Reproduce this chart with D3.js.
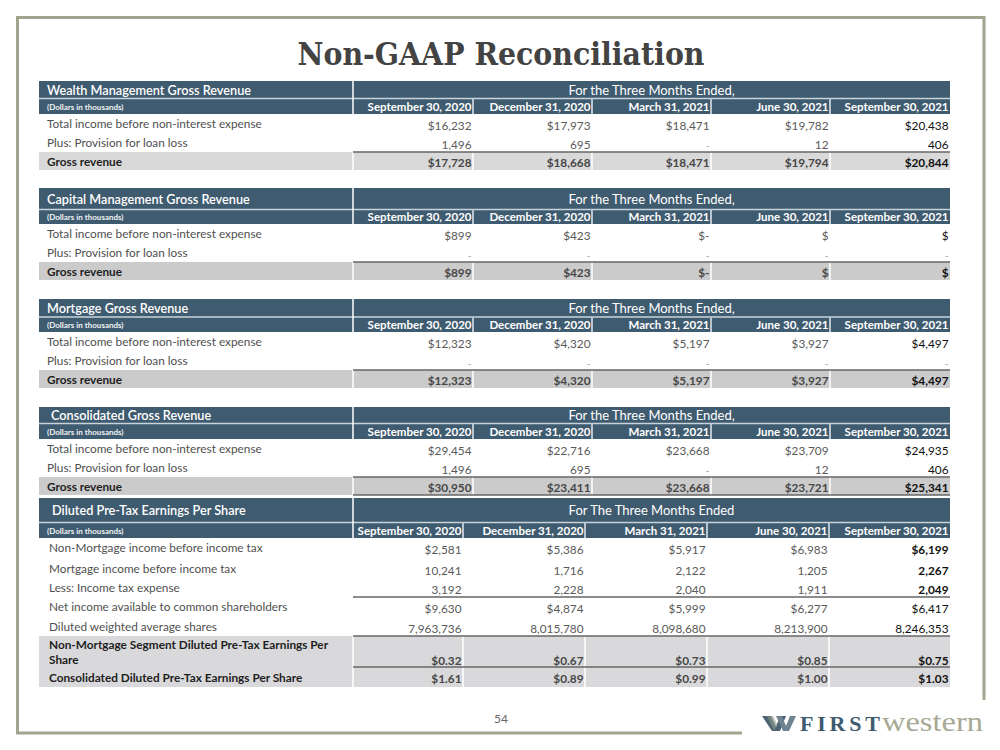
<!DOCTYPE html>
<html><head><meta charset="utf-8">
<script src="https://cdn.jsdelivr.net/npm/d3@7"></script>
<style>body{margin:0;background:#fff;} svg{display:block;}</style>
</head><body>
<svg id="c" width="1000" height="750"></svg>
<script>
// ---------- DATA ----------
const dates = ["September 30, 2020","December 31, 2020","March 31, 2021","June 30, 2021","September 30, 2021"];
const wealthTotal = [16232, 17973, 18471, 19782, 20438];
const wealthProv  = [1496, 695, null, 12, 406];
const wealthGross = [17728, 18668, 18471, 19794, 20844];
const capitalTotal = ["$899", "$423", "$-", "$", "$"];
const capitalProv  = ["-", "-", "-", "-", "-"];
const capitalGross = ["$899", "$423", "$-", "$", "$"];
const mortTotal = [12323, 4320, 5197, 3927, 4497];
const mortProv  = [null, null, null, null, null];
const mortGross = [12323, 4320, 5197, 3927, 4497];
const consTotal = [29454, 22716, 23668, 23709, 24935];
const consProv  = [1496, 695, null, 12, 406];
const consGross = [30950, 23411, 23668, 23721, 25341];
const epsNonMortIncome = [2581, 5386, 5917, 6983, 6199];
const epsMortIncome    = [10241, 1716, 2122, 1205, 2267];
const epsTax           = [3192, 2228, 2040, 1911, 2049];
const epsNetIncome     = [9630, 4874, 5999, 6277, 6417];
const epsShares        = [7963736, 8015780, 8098680, 8213900, 8246353];
const epsNonMortSeg    = [0.32, 0.67, 0.73, 0.85, 0.75];
const epsConsolidated  = [1.61, 0.89, 0.99, 1.00, 1.03];

// ---------- STYLE ----------
const SLATE = "#3f5b6f";
const FONT = "Lato, 'Open Sans', sans-serif";
const FS = 11.8;
const svg = d3.select("#c");
const fmtC = d3.format(",");
const money = v => v == null ? "-" : "$" + fmtC(v);
const plain = v => v == null ? "-" : fmtC(v);
const money2 = v => "$" + d3.format(".2f")(v);
const str = v => v;

const L = 39, R = 950, SPLIT = 353;
const colMain = d3.scaleLinear().domain([0,1,2,3,4,5]).range([SPLIT, 473, 592, 711, 830, R]);
const colEps  = d3.scaleLinear().domain([0,1,2,3,4,5]).range([SPLIT, 463, 585, 707, 829, R]);

// frame
const FR = "#a2a48d";
svg.append("line").attr("x1",17).attr("x2",984).attr("y1",17.5).attr("y2",17.5).attr("stroke",FR).attr("stroke-width",3);
svg.append("line").attr("x1",17.5).attr("x2",17.5).attr("y1",16).attr("y2",734).attr("stroke",FR).attr("stroke-width",3);
svg.append("line").attr("x1",16).attr("x2",742).attr("y1",733).attr("y2",733).attr("stroke",FR).attr("stroke-width",3);
svg.append("line").attr("x1",984).attr("x2",984).attr("y1",16).attr("y2",700).attr("stroke",FR).attr("stroke-width",3);

// title
svg.append("text").attr("x",501).attr("y",65).attr("text-anchor","middle")
  .attr("font-family","'DejaVu Serif', serif").attr("font-weight","bold").attr("font-size",31)
  .attr("fill","#434343").attr("textLength",407).attr("lengthAdjust","spacingAndGlyphs")
  .text("Non-GAAP Reconciliation");

function drawHeader(t, col, h1Title, h1Right, titleX) {
  svg.append("rect").attr("x",L).attr("y",t.h1).attr("width",R-L).attr("height",t.h2-t.h1).attr("fill",SLATE);
  svg.append("rect").attr("x",L).attr("y",t.h2).attr("width",R-L).attr("height",t.d-t.h2).attr("fill",SLATE);
  svg.append("line").attr("x1",L).attr("x2",R).attr("y1",t.h2).attr("y2",t.h2).attr("stroke","#c8d4dc").attr("stroke-width",1.5);
  svg.append("line").attr("x1",SPLIT).attr("x2",SPLIT).attr("y1",t.h1).attr("y2",t.d).attr("stroke","#ffffff").attr("stroke-width",1.5);
  svg.selectAll(null).data([1,2,3,4]).enter().append("line")
    .attr("x1",i=>col(i)).attr("x2",i=>col(i)).attr("y1",t.h2).attr("y2",t.d)
    .attr("stroke","#b7c6d1").attr("stroke-width",2);
  const c1 = (t.h1+t.h2)/2, c2 = (t.h2+t.d)/2;
  svg.append("text").attr("x",titleX).attr("y",c1+5).attr("font-family",FONT).attr("font-weight",600)
    .attr("font-size",12.7).attr("fill","#fff").text(h1Title);
  svg.append("text").attr("x",(SPLIT+R)/2).attr("y",c1+5).attr("text-anchor","middle").attr("font-family",FONT)
    .attr("font-size",13).attr("fill","#fff").text(h1Right);
  svg.append("text").attr("x",L+8).attr("y",c2+3.5).attr("font-family",FONT).attr("font-weight","bold")
    .attr("font-size",8).attr("fill","#eef2f5").text("(Dollars in thousands)");
  svg.selectAll(null).data(dates).enter().append("text")
    .attr("x",(d,i)=>col(i+1)-1.5).attr("y",c2+4.5).attr("text-anchor","end")
    .attr("font-family",FONT).attr("font-weight","bold").attr("font-size",11.5).attr("fill","#fff").text(d=>d);
}

function drawRow(col, r) {
  if (r.gray) {
    svg.append("rect").attr("x",L).attr("y",r.top).attr("width",R-L).attr("height",r.bot-r.top).attr("fill",r.gray);
    svg.selectAll(null).data([0,1,2,3,4]).enter().append("line")
      .attr("x1",i=>col(i)).attr("x2",i=>col(i)).attr("y1",r.top).attr("y2",r.bot)
      .attr("stroke","#ffffff").attr("stroke-width",1.5);
  }
  if (r.lineAbove) {
    svg.append("line").attr("x1",SPLIT).attr("x2",R).attr("y1",r.top).attr("y2",r.top).attr("stroke","#666").attr("stroke-width",1.6);
  }
  const labels = Array.isArray(r.label) ? r.label : [r.label];
  labels.forEach((lb, k) => {
    svg.append("text").attr("x",r.lx).attr("y",r.ly + k*15).attr("font-family",FONT)
      .attr("font-weight", r.bold ? "bold" : "normal").attr("font-size",FS)
      .attr("fill", r.bold ? "#1e1e1e" : "#505050").text(lb);
  });
  svg.selectAll(null).data(r.values).enter().append("text")
    .attr("x",(d,i)=>col(i+1)-1.5).attr("y",r.vy).attr("text-anchor","end")
    .attr("font-family",FONT)
    .attr("font-weight",(d,i)=> (r.bold || (r.boldLast && i===4)) ? "bold" : "normal")
    .attr("font-size", (d)=> r.fmt(d) === "-" ? 10 : FS)
    .attr("fill",(d,i)=> r.fmt(d) === "-" ? "#9a9a9a" : (i===4 ? "#111" : (r.bold ? "#474747" : "#5a5a5a")))
    .text(d=>r.fmt(d));
}

function revenueTable(t, title, titleX, total, prov, gross, fmtT, fmtP, fmtG, grayFill, lineBelow) {
  drawHeader(t, colMain, title, "For the Three Months Ended,", titleX);
  const r1 = t.d, r2 = t.d + 19, g = t.line;
  drawRow(colMain, {label:"Total income before non-interest expense", values: total, fmt: fmtT, top:r1, bot:r2, lx:47, ly:r1+14, vy:r1+15.5});
  drawRow(colMain, {label:"Plus: Provision for loan loss", values: prov, fmt: fmtP, top:r2, bot:g, lx:47, ly:r2+13.5, vy:r2+16});
  drawRow(colMain, {label:"Gross revenue", values: gross, fmt: fmtG, top:g, bot:t.end, gray:grayFill, bold:true, lineAbove:true, lx:47, ly:g+13.5, vy:g+14.5});
  if (lineBelow) svg.append("line").attr("x1",SPLIT).attr("x2",R).attr("y1",t.end).attr("y2",t.end).attr("stroke","#666").attr("stroke-width",1.5);
}

revenueTable({h1:81, h2:98.5, d:114, line:152, end:170}, "Wealth Management Gross Revenue", 47,
  wealthTotal, wealthProv, wealthGross, money, plain, money, "#d9d9d9", false);
revenueTable({h1:188, h2:209.5, d:224, line:262, end:280}, "Capital Management Gross Revenue", 47,
  capitalTotal, capitalProv, capitalGross, str, str, str, "#cbcbcb", false);
revenueTable({h1:299, h2:317, d:332, line:370, end:388}, "Mortgage Gross Revenue", 47,
  mortTotal, mortProv, mortGross, money, plain, money, "#cbcbcb", false);
revenueTable({h1:407, h2:423.5, d:439, line:477, end:495}, "Consolidated Gross Revenue", 51,
  consTotal, consProv, consGross, money, plain, money, "#cbcbcb", true);

// EPS table
const te = {h1:498, h2:522.5, d:538};
drawHeader(te, colEps, "Diluted Pre-Tax Earnings Per Share", "For The Three Months Ended", 52);
const epsRows = [
  {label:"Non-Mortgage income before income tax", values:epsNonMortIncome, fmt:money, top:538, bot:559},
  {label:"Mortgage income before income tax", values:epsMortIncome, fmt:plain, top:559, bot:578},
  {label:"Less: Income tax expense", values:epsTax, fmt:plain, top:578, bot:597},
  {label:"Net income available to common shareholders", values:epsNetIncome, fmt:money, top:597, bot:617, lineAbove:true},
  {label:"Diluted weighted average shares", values:epsShares, fmt:plain, top:617, bot:636},
];
epsRows.forEach((r,k) => {
  drawRow(colEps, Object.assign({lx:49, ly:r.top+14, vy:r.top+15.5, boldLast: k<3}, r));
});
drawRow(colEps, {label:["Non-Mortgage Segment Diluted Pre-Tax Earnings Per","Share"], values:epsNonMortSeg, fmt:money2,
  top:636, bot:667, gray:"#d9d9db", bold:true, lineAbove:true, lx:49, ly:649, vy:665});
drawRow(colEps, {label:"Consolidated Diluted Pre-Tax Earnings Per Share", values:epsConsolidated, fmt:money2,
  top:667, bot:687, gray:"#d9d9db", bold:true, lineAbove:true, lx:49, ly:681.5, vy:683});

// page number
svg.append("text").attr("x",501).attr("y",723).attr("text-anchor","middle").attr("font-family",FONT)
  .attr("font-size",12).attr("fill","#666").text("54");

// logo
const logo = svg.append("g");
logo.append("path").attr("d","M762,716 L771,716 L776,727 L780,716 L786,716 L780,731 L772,731 Z").attr("fill","#4d6373");
logo.append("path").attr("d","M776,716 L782,716 L786,726 L790,716 L796,716 L789,731 L783,731 Z").attr("fill","#6f8391");
logo.append("path").attr("d","M767,716 L773,716 L777,724 L774,731 Z").attr("fill","#8c9a8a").attr("opacity",0.6);
logo.append("text").attr("x",800).attr("y",731).attr("font-family","'Liberation Serif', serif").attr("font-weight","bold")
  .attr("font-size",22).attr("fill","#3f5b6f").attr("textLength",80).attr("lengthAdjust","spacing").text("FIRST");
logo.append("text").attr("x",882).attr("y",731).attr("font-family","'Liberation Serif', serif")
  .attr("font-size",27).attr("fill","#a7a994").attr("textLength",101).attr("lengthAdjust","spacingAndGlyphs").text("western");
</script>
</body></html>
